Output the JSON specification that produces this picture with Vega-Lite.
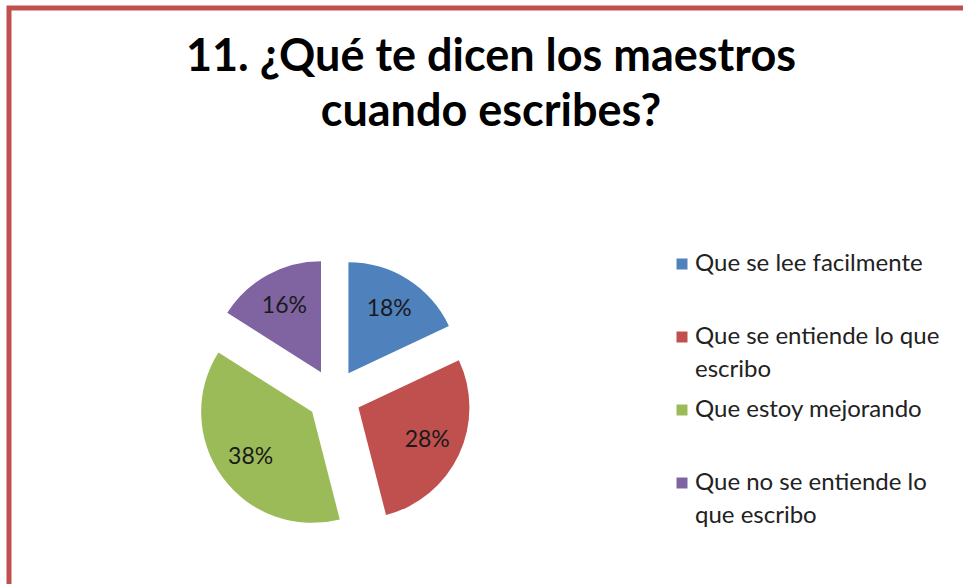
{
  "$schema": "https://vega.github.io/schema/vega-lite/v6.json",
  "width": 954,
  "height": 576,
  "autosize": "none",
  "padding": {"left": 9, "top": 8, "right": 0, "bottom": 0},
  "background": "white",
  "config": {
    "view": {"stroke": "#C0504D", "strokeWidth": 5, "strokeDash": [954, 1530, 576]},
    "font": "Lato",
    "style": {"guide-label": {"lineHeight": 33}}
  },
  "title": {
    "text": ["11. ¿Qué te dicen los maestros", "cuando escribes?"],
    "anchor": "middle",
    "frame": "group",
    "orient": "top",
    "baseline": "top",
    "offset": -30,
    "dx": 5,
    "dy": 97,
    "fontSize": 45,
    "fontWeight": "bold",
    "font": "Lato",
    "lineHeight": 55,
    "color": "#000000"
  },
  "data": {
    "values": [
      {"k": 1, "cat": "Que se lee facilmente", "pct": 18},
      {"k": 2, "cat": "Que se entiende lo que escribo", "pct": 28},
      {"k": 3, "cat": "Que estoy mejorando", "pct": 38},
      {"k": 4, "cat": "Que no se entiende lo que escribo", "pct": 16}
    ]
  },
  "encoding": {
    "theta": {"field": "pct", "type": "quantitative", "stack": true},
    "order": {"field": "k", "type": "quantitative"},
    "x": {"value": 325},
    "y": {"value": 388}
  },
  "layer": [
    {
      "mark": {
        "type": "arc",
        "outerRadius": 111,
        "stroke": null,
        "xOffset": {"expr": "27*sin(PI*(datum.pct_start+datum.pct_end)/100)"},
        "yOffset": {"expr": "-27*cos(PI*(datum.pct_start+datum.pct_end)/100)"}
      },
      "encoding": {
        "color": {
          "field": "cat",
          "type": "nominal",
          "scale": {
            "domain": ["Que se lee facilmente", "Que se entiende lo que escribo", "Que estoy mejorando", "Que no se entiende lo que escribo"],
            "range": ["#4F81BD", "#C0504D", "#9BBB59", "#8064A2"]
          },
          "legend": {
            "title": null,
            "orient": "none",
            "legendX": 661,
            "legendY": 244,
            "padding": 0,
            "symbolType": "square",
            "symbolSize": 121,
            "symbolStrokeWidth": 0,
            "symbolOpacity": 1,
            "labelFont": "Lato",
            "labelFontSize": 24,
            "labelColor": "#222222",
            "labelOffset": 1,
            "labelLimit": 400,
            "rowPadding": 16,
            "labelExpr": "datum.label == 'Que se entiende lo que escribo' ? ['Que se entiende lo que', 'escribo'] : datum.label == 'Que no se entiende lo que escribo' ? ['Que no se entiende lo', 'que escribo'] : [datum.label, ' ']",
            "encode": {"labels": {"update": {"lineHeight": {"value": 33}}}}
          }
        }
      }
    },
    {
      "mark": {"type": "text", "radius": 103, "fontSize": 23, "font": "Lato", "color": "#1a1a1a", "text": {"expr": "datum.pct + '%'"}},
      "encoding": {
        "detail": {"field": "cat", "type": "nominal"}
      }
    }
  ]
}
